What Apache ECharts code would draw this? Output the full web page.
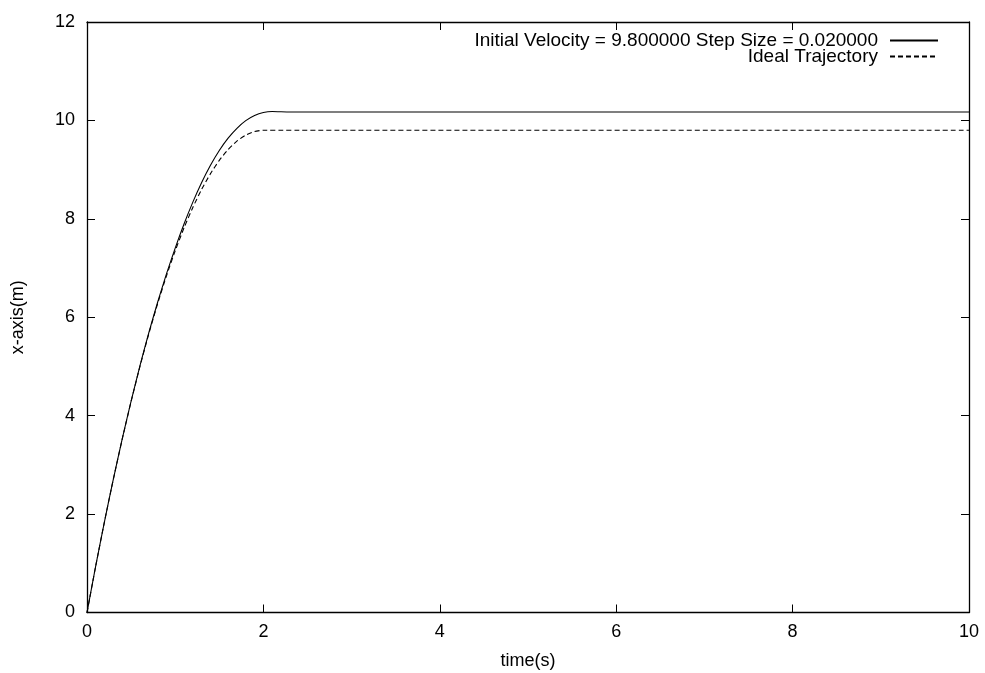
<!DOCTYPE html>
<html>
<head>
<meta charset="utf-8">
<script src="https://cdn.jsdelivr.net/npm/echarts@6/dist/echarts.min.js"></script>
<style>
html,body{margin:0;padding:0;background:#fff;}
#chart{width:985px;height:673px;}
</style>
</head>
<body>
<div id="chart"></div>
<script>
// Time samples (s)
var timeSolid = [0, 0.1, 0.2, 0.3, 0.4, 0.5, 0.6, 0.7, 0.8, 0.9, 1.0, 1.1, 1.2, 1.3, 1.4, 1.5, 1.6, 1.7, 1.8, 1.9, 2.0, 2.1, 2.3, 10];
var xSolid    = [0, 0.956, 1.862, 2.722, 3.532, 4.295, 5.010, 5.680, 6.300, 6.875, 7.405, 7.895, 8.340, 8.740, 9.090, 9.390, 9.640, 9.840, 9.995, 10.100, 10.160, 10.180, 10.170, 10.170];
var timeIdeal = [0, 0.1, 0.2, 0.3, 0.4, 0.5, 0.6, 0.7, 0.8, 0.9, 1.0, 1.1, 1.2, 1.3, 1.4, 1.5, 1.6, 1.7, 1.8, 1.9, 2.0, 10];
var xIdeal    = [0, 0.956, 1.862, 2.720, 3.528, 4.288, 4.998, 5.660, 6.272, 6.836, 7.350, 7.816, 8.232, 8.600, 8.918, 9.188, 9.408, 9.580, 9.702, 9.776, 9.800, 9.800];
var seriesNames = ['Initial Velocity = 9.800000 Step Size = 0.020000', 'Ideal Trajectory'];
var xTicks = [0, 2, 4, 6, 8, 10];
var yTicks = [0, 2, 4, 6, 8, 10, 12];

function pairs(t, v) { return t.map(function (x, i) { return [x, v[i]]; }); }

var FONT = 'Liberation Sans, Arial, sans-serif';
var axisCommon = {
  type: 'value',
  splitLine: { show: false },
  axisLine: { show: true, onZero: false, lineStyle: { color: '#000', width: 1.3 } },
  axisTick: { show: true, inside: true, length: 8, lineStyle: { color: '#000', width: 1 } },
  axisLabel: { color: '#000', fontSize: 18, fontFamily: FONT }
};
function ax(extra) { return Object.assign({}, JSON.parse(JSON.stringify(axisCommon)), extra); }

function legendFor(name, top) {
  return {
    data: [name], right: 41, top: top, orient: 'vertical', align: 'right',
    itemWidth: 48, itemHeight: 14, selectedMode: false,
    itemStyle: { opacity: 0 },
    textStyle: { color: '#000', fontSize: 19, fontFamily: FONT, padding: [0, 7, 0, 0] }
  };
}

var chart = echarts.init(document.getElementById('chart'), null, { renderer: 'canvas' });
chart.setOption({
  animation: false,
  backgroundColor: '#fff',
  textStyle: { fontFamily: FONT },
  grid: { left: 87, right: 16, top: 22, bottom: 60.5, containLabel: false, outerBoundsMode: 'none' },
  legend: [legendFor(seriesNames[0], 26), legendFor(seriesNames[1], 42)],
  xAxis: [
    ax({ position: 'bottom', min: xTicks[0], max: xTicks[xTicks.length - 1], interval: 2,
         name: 'time(s)', nameLocation: 'middle', nameGap: 40,
         nameTextStyle: { color: '#000', fontSize: 18, fontFamily: FONT },
         axisLabel: { color: '#000', fontSize: 18, fontFamily: FONT, margin: 11 } }),
    ax({ position: 'top', min: xTicks[0], max: xTicks[xTicks.length - 1], interval: 2,
         axisLabel: { show: false } })
  ],
  yAxis: [
    ax({ position: 'left', min: yTicks[0], max: yTicks[yTicks.length - 1], interval: 2,
         name: 'x-axis(m)', nameLocation: 'middle', nameGap: 60, nameRotate: 90,
         nameTextStyle: { color: '#000', fontSize: 18, fontFamily: FONT },
         axisLabel: { color: '#000', fontSize: 18, fontFamily: FONT, margin: 12 } }),
    ax({ position: 'right', min: yTicks[0], max: yTicks[yTicks.length - 1], interval: 2,
         axisLabel: { show: false } })
  ],
  series: [
    {
      name: seriesNames[0], type: 'line', xAxisIndex: 0, yAxisIndex: 0,
      data: pairs(timeSolid, xSolid), showSymbol: false, symbol: 'none', smooth: 0.2,
      lineStyle: { color: '#000', width: 1.1, type: 'solid' }, itemStyle: { color: '#000' }
    },
    {
      name: seriesNames[1], type: 'line', xAxisIndex: 0, yAxisIndex: 0,
      data: pairs(timeIdeal, xIdeal), showSymbol: false, symbol: 'none', smooth: 0.2,
      lineStyle: { color: '#000', width: 1.1, type: [5, 3] }, itemStyle: { color: '#000' }
    }
  ]
});
</script>
</body>
</html>
